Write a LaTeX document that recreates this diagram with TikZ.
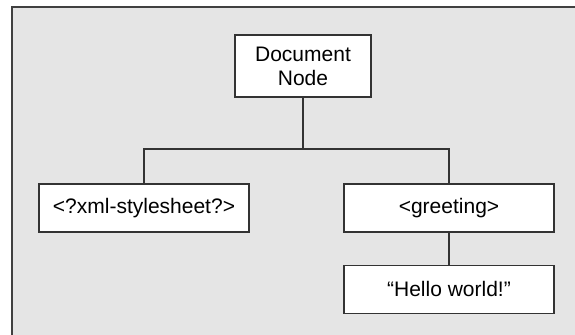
\documentclass[tikz,border=0pt]{standalone}
\usepackage{fontspec}
\setmainfont{Liberation Sans}

\begin{document}
\begin{tikzpicture}[x=0.5pt, y=-0.5pt,
    box/.style = {draw=black!80, fill=white, line width=0.9pt, inner sep=0pt,
                  minimum width=105pt, minimum height=24pt, align=center,
                  font=\fontsize{10.5}{12}\selectfont}]
    \useasboundingbox (0,0) rectangle (575,335);
    \fill[white] (0,0) rectangle (575,335);
    \filldraw[fill=black!10, draw=black!75, line width=0.9pt] (12,7) rectangle (620,380);

    \node[box, minimum width=68pt, minimum height=31pt] (Doc) at (303, 66) {Document\\Node};
    \node[box] (Xsl) at (144, 208) {<?xml-stylesheet?>};
    \node[box] (Greet) at (449, 208) {<greeting>};
    \node[box] (Hello) at (449, 289.5) {“Hello world!”};
    \coordinate (Bus) at (303, 149);

    \draw[black!80, line width=0.7pt] (Doc) -- (Bus) -| (Xsl);
    \draw[black!80, line width=0.7pt] (Bus) -| (Greet);
    \draw[black!80, line width=0.7pt] (Greet) -- (Hello);
\end{tikzpicture}
\end{document}
